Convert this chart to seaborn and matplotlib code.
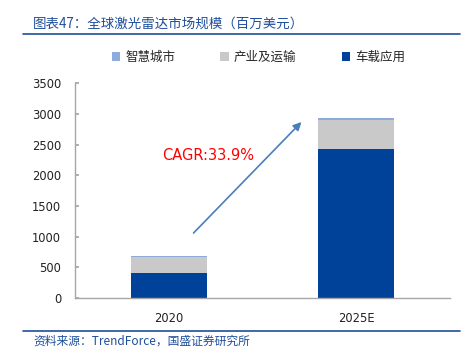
import matplotlib
matplotlib.use("Agg")
import matplotlib.pyplot as plt
import seaborn as sns
import pandas as pd
from matplotlib.patches import Patch
from matplotlib.lines import Line2D

years = ["2020", "2025E"]
smart_city = [15, 25]
industry = [270, 480]
vehicle = [400, 2430]
series_names = ["智慧城市", "产业及运输", "车载应用"]
colors = ["#8FAADC", "#C9C9C9", "#00429A"]
yticks = [0, 500, 1000, 1500, 2000, 2500, 3000, 3500]
title = "图表47：全球激光雷达市场规模（百万美元）"
source = "资料来源：TrendForce，国盛证券研究所"
cagr = "CAGR:33.9%"

sns.set_theme(style="white")
plt.rcParams['font.family'] = ['Noto Sans CJK SC', 'DejaVu Sans']

df = pd.DataFrame({"year": years, "smart": smart_city, "ind": industry, "veh": vehicle})
df["top1"] = df["veh"]
df["top2"] = df["veh"] + df["ind"]
df["top3"] = df["top2"] + df["smart"]

fig = plt.figure(figsize=(4.69, 3.48), dpi=100)
ax = fig.add_axes([75/469, 50/348, 375/469, 214.5/348])

for col, c in zip(["top3", "top2", "top1"], colors):
    sns.barplot(data=df, x="year", y=col, color=c, width=0.405, ax=ax,
                saturation=1, edgecolor="none", linewidth=0)

ax.set_xlim(-0.5, 1.5)
ax.set_ylim(0, 3500)
ax.set_yticks(yticks)
ax.set_yticklabels([str(v) for v in yticks], fontsize=8.3, family="DejaVu Sans", color="#222222")
ax.set_xticks([0, 1])
ax.set_xticklabels(years, fontsize=8.3, family="DejaVu Sans", color="#222222")
ax.set_xlabel("")
ax.set_ylabel("")
for s in ["top", "right"]:
    ax.spines[s].set_visible(False)
for s in ["left", "bottom"]:
    ax.spines[s].set_color("#A6A6A6")
    ax.spines[s].set_linewidth(1)
ax.tick_params(axis="y", direction="in", length=3, color="#A6A6A6", pad=10, left=True)
ax.tick_params(axis="x", length=0, pad=10)

ax.annotate("", xy=(0.718, 2904), xytext=(0.122, 1028),
            arrowprops=dict(arrowstyle="-|>", color="#4A7EBB", lw=1.2, mutation_scale=12))
ax.text(0.21, 2333, cagr, color="#FF0000", fontsize=10.5, ha="center", va="center",
        family="DejaVu Sans")

handles = [Patch(facecolor=c, edgecolor="none") for c in colors]
fig.legend(handles, series_names, loc="center", bbox_to_anchor=(0.551, 1 - 57/348),
           ncol=3, frameon=False, fontsize=9, handlelength=0.7, handleheight=0.7,
           handletextpad=0.4, columnspacing=3.6)

fig.text(33/469, 1 - 24/348, title, color="#1F4E9A", fontsize=9.7, va="center",
         ha="left", style="italic")
fig.add_artist(Line2D([23/469, 460/469], [1 - 34/348, 1 - 34/348], color="#1F4E9A", lw=1.2))
fig.add_artist(Line2D([23/469, 460/469], [1 - 331/348, 1 - 331/348], color="#1F4E9A", lw=1.2))
fig.text(33/469, 1 - 341/348, source, color="#1F4E9A", fontsize=8.5, va="center",
         ha="left", style="italic")

fig.savefig("out.png", dpi=100)
